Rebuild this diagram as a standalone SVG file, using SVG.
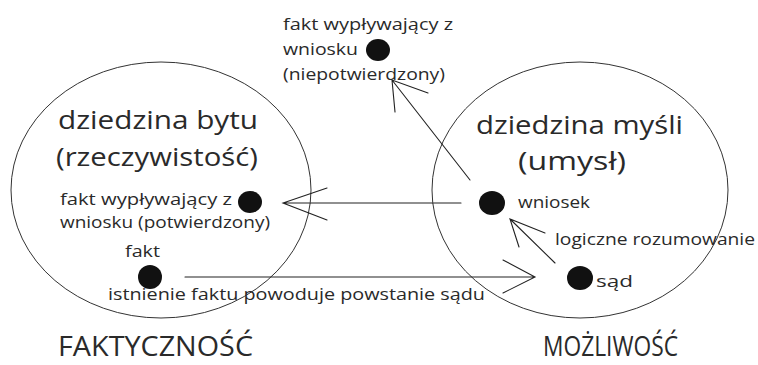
<svg xmlns="http://www.w3.org/2000/svg" width="758" height="365" viewBox="0 0 758 365">
<style>
text{font-family:"Open Sans","Liberation Sans",sans-serif;fill:#2a2a2a}
.s{font-size:16px}
.b{font-size:26px}
.h{font-size:27px}
.dom{fill:none;stroke:#333;stroke-width:1}
.dot{fill:#111}
.ln{fill:none;stroke:#222;stroke-width:1.1;stroke-linecap:round}
</style>
<rect width="758" height="365" fill="#fff"/>
<g id="domain-bytu">
<ellipse class="dom" cx="161" cy="190" rx="150" ry="128"/>
<text class="b" x="58" y="129" textLength="200" lengthAdjust="spacingAndGlyphs">dziedzina bytu</text>
<text class="b" x="56" y="166" textLength="202" lengthAdjust="spacingAndGlyphs">(rzeczywistość)</text>
</g>
<g id="domain-mysli">
<ellipse class="dom" cx="580" cy="190" rx="148" ry="128"/>
<text class="b" x="476" y="134" textLength="207" lengthAdjust="spacingAndGlyphs">dziedzina myśli</text>
<text class="b" x="518" y="170" textLength="108" lengthAdjust="spacingAndGlyphs">(umysł)</text>
</g>
<g id="fakt-niepotwierdzony">
<ellipse class="dot" cx="378" cy="50" rx="12" ry="11"/>
<text class="s" x="283" y="30" textLength="170" lengthAdjust="spacingAndGlyphs">fakt wypływający z</text>
<text class="s" x="283" y="55" textLength="75" lengthAdjust="spacingAndGlyphs">wniosku</text>
<text class="s" x="283" y="80" textLength="162" lengthAdjust="spacingAndGlyphs">(niepotwierdzony)</text>
</g>
<g id="fakt-potwierdzony">
<ellipse class="dot" cx="250" cy="202" rx="12" ry="11"/>
<text class="s" x="60" y="205" textLength="172" lengthAdjust="spacingAndGlyphs">fakt wypływający z</text>
<text class="s" x="60" y="228" textLength="210" lengthAdjust="spacingAndGlyphs">wniosku (potwierdzony)</text>
</g>
<g id="fakt">
<ellipse class="dot" cx="150" cy="277" rx="12" ry="12"/>
<text class="s" x="125" y="257" textLength="35" lengthAdjust="spacingAndGlyphs">fakt</text>
</g>
<g id="wniosek">
<ellipse class="dot" cx="492" cy="203" rx="13" ry="12"/>
<text class="s" x="518" y="208" textLength="72" lengthAdjust="spacingAndGlyphs">wniosek</text>
</g>
<g id="sad">
<ellipse class="dot" cx="580" cy="278" rx="13" ry="12"/>
<text class="s" x="596" y="287" textLength="37" lengthAdjust="spacingAndGlyphs">sąd</text>
</g>
<g id="connectors">
<path class="ln" d="M461 203 H283 M327 188 L283 203 L327 220"/>
<path class="ln" d="M185 277 H535 M503 260 L535 277 L503 293"/>
<path class="ln" d="M555 263 L510 219 M545 233 L510 219 L519 247"/>
<path class="ln" d="M470 180 L392 80 M428 93 L392 80 L395 112"/>
<text class="s" x="108" y="300" textLength="377" lengthAdjust="spacingAndGlyphs">istnienie faktu powoduje powstanie sądu</text>
<text class="s" x="555" y="245" textLength="200" lengthAdjust="spacingAndGlyphs">logiczne rozumowanie</text>
</g>
<g id="labels">
<text class="h" x="58" y="356" textLength="195" lengthAdjust="spacingAndGlyphs">FAKTYCZNOŚĆ</text>
<text class="h" x="543" y="356" textLength="135" lengthAdjust="spacingAndGlyphs">MOŻLIWOŚĆ</text>
</g>
</svg>
